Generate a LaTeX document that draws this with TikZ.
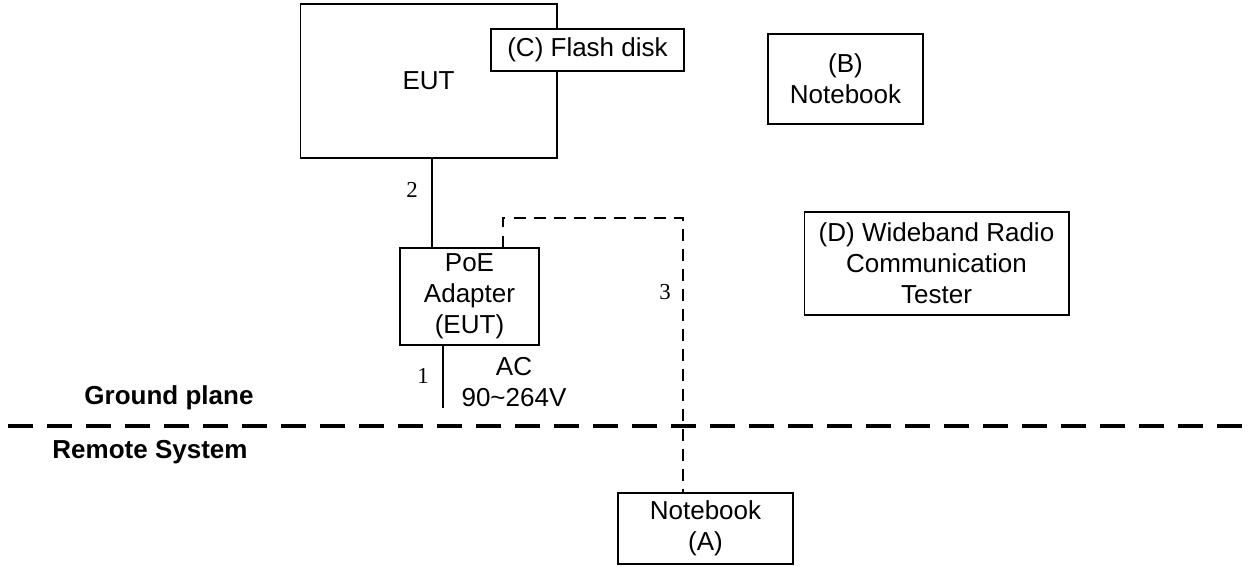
\documentclass[tikz,border=0pt]{standalone}
\usepackage{fontspec}
\setmainfont{Liberation Sans}
\newfontfamily\numfont{Liberation Serif}
\usepackage{tikz}
\usetikzlibrary{calc}

\tikzset{
	box/.style={draw, line width=0.6pt, fill=white, align=center, inner sep=0pt,
		font=\fontsize{14.8}{17.6}\selectfont},
	cable/.style={line width=0.6pt},
	lancable/.style={line width=0.75pt, dash pattern=on 6.8pt off 4.6pt},
	groundline/.style={line width=1.9pt, dash pattern=on 14.2pt off 8pt},
	cablenum/.style={font=\numfont\fontsize{13}{15}\selectfont},
	zonetext/.style={font=\bfseries\fontsize{14.8}{17.6}\selectfont}
}

\begin{document}
\begin{tikzpicture}[x=0.02cm, y=-0.02cm]
			\useasboundingbox (0,0) rectangle (1252,566);
			
			% equipment
			\node[box, minimum width=5.14cm, minimum height=3.08cm] (eut) at (428.5,81) {EUT};
			\node[box, minimum width=3.86cm, minimum height=0.84cm] (flash) at (587.5,50) {(C) Flash disk};
			\node[box, minimum width=3.1cm, minimum height=1.8cm] (nbB) at (845.5,79) {(B)\\Notebook};
			\node[box, minimum width=2.78cm, minimum height=1.94cm] (poe) at (469.5,296.5) {PoE\\Adapter\\(EUT)};
			\node[box, minimum width=5.3cm, minimum height=2.06cm] (tester) at (936.5,263.5) {(D) Wideband Radio\\Communication\\Tester};
			\node[box, minimum width=3.5cm, minimum height=1.42cm] (nbA) at (705.5,528.5) {Notebook\\(A)};
			
			% cables
			\coordinate (ac) at (443,408);
			\coordinate (bend) at (683,218);
			\draw[cable] ([xshift=0.07cm]eut.south) -- ([xshift=0.07cm]eut.south |- poe.north);		% cable 2
			\draw[cable] (poe.south -| ac) -- (ac);		% cable 1
			\draw[lancable] ([xshift=0.67cm]poe.north) |- (bend) -- (nbA.north -| bend);		% cable 3
			
			\node[cablenum] (n2) at (412,190) {2};
			\node[cablenum] (n1) at (423,376) {1};
			\node[cablenum] (n3) at (665,292) {3};
			\node[box, draw=none, fill=none] (acin) at (514,382) {AC\\90\textasciitilde264V};
			
			% ground plane
			\coordinate (gl) at (8,426);
			\coordinate (gr) at (1252,426);
			\draw[groundline] (gl) -- (gr);
			\node[zonetext] (ground) at (169,398) {Ground plane};
			\node[zonetext] (remote) at (150,452) {Remote System};
			
\end{tikzpicture}
\end{document}
